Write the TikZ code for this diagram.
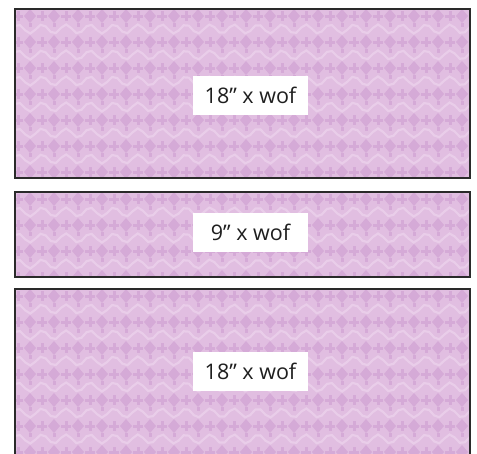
\documentclass[tikz,border=0pt]{standalone}
\usepackage{fontspec}
\setmainfont{Open Sans}
\definecolor{pinkbase}{HTML}{E1BEE1}
\definecolor{pinkdark}{HTML}{D5AAD7}
\definecolor{pinklight}{HTML}{E9CDE9}
\definecolor{edgecol}{HTML}{2A2A2A}
\newcommand\damaskfill[4]{%
  \begin{scope}
    \clip (#1,#2) rectangle (#3,#4);
    \fill[pinkbase] (#1,#2) rectangle (#3,#4);
    \foreach \j in {0,...,8}{%
      \pgfmathsetmacro\yy{#2-6+26*\j}
      \foreach \i in {0,...,20}{%
        \pgfmathsetmacro\xa{6+24*\i}
        \pgfmathsetmacro\xb{18+24*\i}
        \pgfmathsetmacro\ym{\yy+13}
        \fill[pinkdark] (\xa,\ym-7) -- (\xa+6,\ym) -- (\xa,\ym+7) -- (\xa-6,\ym) -- cycle;
        \fill[pinkdark] (\xb-1.5,\ym-5) rectangle (\xb+1.5,\ym+5);
        \fill[pinkdark] (\xb-5,\ym-1.5) rectangle (\xb+5,\ym+1.5);
        \fill[pinkdark] (\xa-1.5,\yy-6) rectangle (\xa+1.5,\yy-2);
      }
      \draw[pinklight, line width=2.2pt] plot[domain=#1:#3, samples=90] (\x,{\yy+4.5*sin(15*\x)});
    }
  \end{scope}
  \draw[gray!60, line width=2.6pt] (#1,#2) rectangle (#3,#4);
  \draw[edgecol, line width=1.3pt] (#1,#2) rectangle (#3,#4);
}
\tikzset{
  cutlabel/.style={fill=white, minimum width=115pt, minimum height=39pt, inner sep=0pt, font=\fontsize{21.5}{25}\selectfont, text=black!88},
  piece/.style={inner sep=0pt, draw=none}
}
\begin{document}
\begin{tikzpicture}[x=1pt,y=-1pt]
  \useasboundingbox (0,0) rectangle (477,453);
  \fill[white] (0,0) rectangle (477,453);
  \damaskfill{15}{9}{470}{178}
  \damaskfill{15}{192}{470}{277}
  \damaskfill{15}{289}{470}{462}
  \node[piece, minimum width=455pt, minimum height=169pt] (r1) at (242.5,93.5) {};
  \node[piece, minimum width=455pt, minimum height=85pt] (r2) at (242.5,234.5) {};
  \node[piece, minimum width=455pt, minimum height=173pt] (r3) at (242.5,375.5) {};
  \node[cutlabel] (l1) at (250.5,95.5) {18\symbol{34} x wof};
  \node[cutlabel] (l2) at (250.5,232) {9\symbol{34} x wof};
  \node[cutlabel] (l3) at (250.5,371) {18\symbol{34} x wof};
\end{tikzpicture}
\end{document}
